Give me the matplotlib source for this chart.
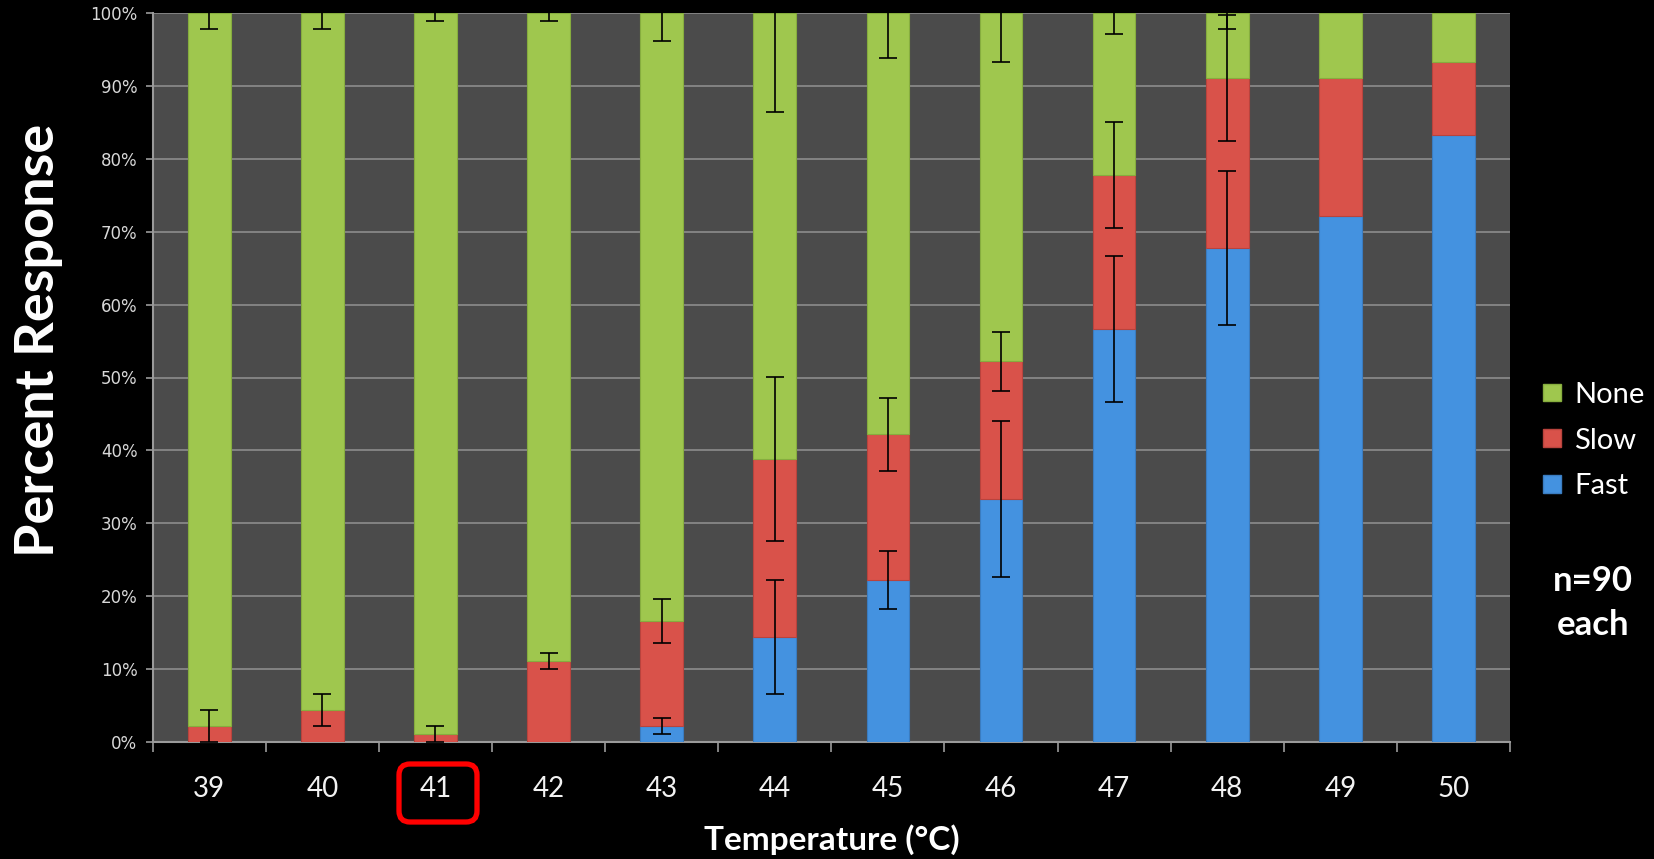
import matplotlib
matplotlib.use("Agg")
import matplotlib.pyplot as plt
from matplotlib.patches import Patch, FancyBboxPatch
from matplotlib.transforms import IdentityTransform
import numpy as np

# temperatures and percent of flies per response (n=90 each)
temps = ["39", "40", "41", "42", "43", "44", "45", "46", "47", "48", "49", "50"]
fast = [0, 0, 0, 0, 2.2, 14.4, 22.2, 33.3, 56.7, 67.8, 72.2, 83.3]
slow = [2.2, 4.4, 1.1, 11.1, 14.4, 24.4, 20.0, 18.9, 21.1, 23.3, 18.9, 10.0]
none = [100 - f - s for f, s in zip(fast, slow)]

# error bar half-lengths
fast_err = [0, 0, 0, 0, 1.1, 7.8, 4.0, 10.7, 10.0, 10.6, 0, 0]
slow_err = [2.2, 2.2, 1.1, 1.1, 3.0, 11.3, 5.0, 4.0, 7.3, 8.7, 0, 0]
none_err = [2.2, 2.2, 1.0, 1.0, 3.8, 13.5, 6.2, 6.7, 2.9, 2.2, 0, 0]

GREEN = "#9fc74e"
RED = "#d9524a"
BLUE = "#4492e0"

W, H = 1654, 859
fig = plt.figure(figsize=(W / 100, H / 100), dpi=100, facecolor="black")
ax = fig.add_axes([152.7 / W, 1 - 741.7 / H, (1510 - 152.7) / W, (741.7 - 13.3) / H])
ax.set_facecolor("#4b4b4b")

x = np.arange(len(temps))
bw = 0.378
bottom_slow = np.array(fast)
bottom_none = bottom_slow + np.array(slow)

ax.bar(x, fast, bw, color=BLUE, edgecolor="#3a7cc0", linewidth=0.8, zorder=3)
ax.bar(x, slow, bw, bottom=bottom_slow, color=RED, edgecolor="#b9433d", linewidth=0.8, zorder=3)
ax.bar(x, none, bw, bottom=bottom_none, color=GREEN, edgecolor="#86ad3e", linewidth=0.8, zorder=3)

# error bars sit at the top of each segment
tops = [np.array(fast), bottom_none, np.full(len(temps), 100.0)]
errs = [fast_err, slow_err, none_err]
for top, err in zip(tops, errs):
    e = np.array(err)
    m = e > 0
    ax.errorbar(x[m], top[m], yerr=e[m], fmt="none", ecolor="black",
                elinewidth=1.2, capsize=6.5, capthick=1.2, zorder=4)

ax.set_xlim(-0.5, len(temps) - 0.5)
ax.set_ylim(0, 100)
ax.set_yticks(np.arange(0, 101, 10))
ax.set_yticklabels([f"{v}%" for v in range(0, 101, 10)])
ax.yaxis.grid(True, color="#8c8c8c", linewidth=1.2, zorder=1)
ax.set_axisbelow(True)

ax.set_xticks(x)
ax.set_xticklabels(temps)
ax.set_xticks(np.arange(-0.5, len(temps)), minor=True)
ax.tick_params(axis="x", which="major", length=0, pad=25, labelsize=20,
               labelcolor="#f2f2f2")
ax.tick_params(axis="x", which="minor", length=7, width=1.2, color="#9a9a9a",
               direction="out")
ax.tick_params(axis="y", length=5, width=1.2, color="#9a9a9a", pad=6,
               labelsize=12, labelcolor="#d8d8d8")
for lab in ax.get_xticklabels():
    lab.set_family("Lato")
for lab in ax.get_yticklabels():
    lab.set_family("DejaVu Sans")

for side in ["top", "right"]:
    ax.spines[side].set_visible(False)
for side in ["left", "bottom"]:
    ax.spines[side].set_color("#9a9a9a")
    ax.spines[side].set_linewidth(1.5)

fig.text(39 / W, 1 - 340 / H, "Percent Response", rotation=90, ha="center",
         va="center", color="white", fontsize=39, fontweight="bold", family="Lato")
fig.text(832 / W, 1 - 840 / H, "Temperature (°C)", ha="center", va="center",
         color="white", fontsize=24, fontweight="bold", family="Lato")
fig.text(1593 / W, 1 - 603 / H, "n=90\neach", ha="center", va="center",
         color="white", fontsize=25, fontweight="bold", family="Lato",
         linespacing=1.45)

handles = [Patch(facecolor=GREEN, edgecolor="#86ad3e"),
           Patch(facecolor=RED, edgecolor="#b9433d"),
           Patch(facecolor=BLUE, edgecolor="#3a7cc0")]
leg = fig.legend(handles, ["None", "Slow", "Fast"], loc="upper left",
                 bbox_to_anchor=(1543 / W, 1 - 382 / H), frameon=False,
                 handlelength=0.62, handleheight=0.55, handletextpad=0.45,
                 labelspacing=0.67, borderpad=0, borderaxespad=0,
                 prop={"family": "Lato", "size": 21})
for t in leg.get_texts():
    t.set_color("white")

# red highlight box around the 41 label (pixel coords, origin bottom-left)
box = FancyBboxPatch((399, H - 822), 78, 58,
                     boxstyle="round,pad=0,rounding_size=11",
                     transform=IdentityTransform(), fill=False,
                     edgecolor="#ff0000", linewidth=3.8)
fig.patches.append(box)

fig.savefig("out.png", dpi=100, facecolor="black")
